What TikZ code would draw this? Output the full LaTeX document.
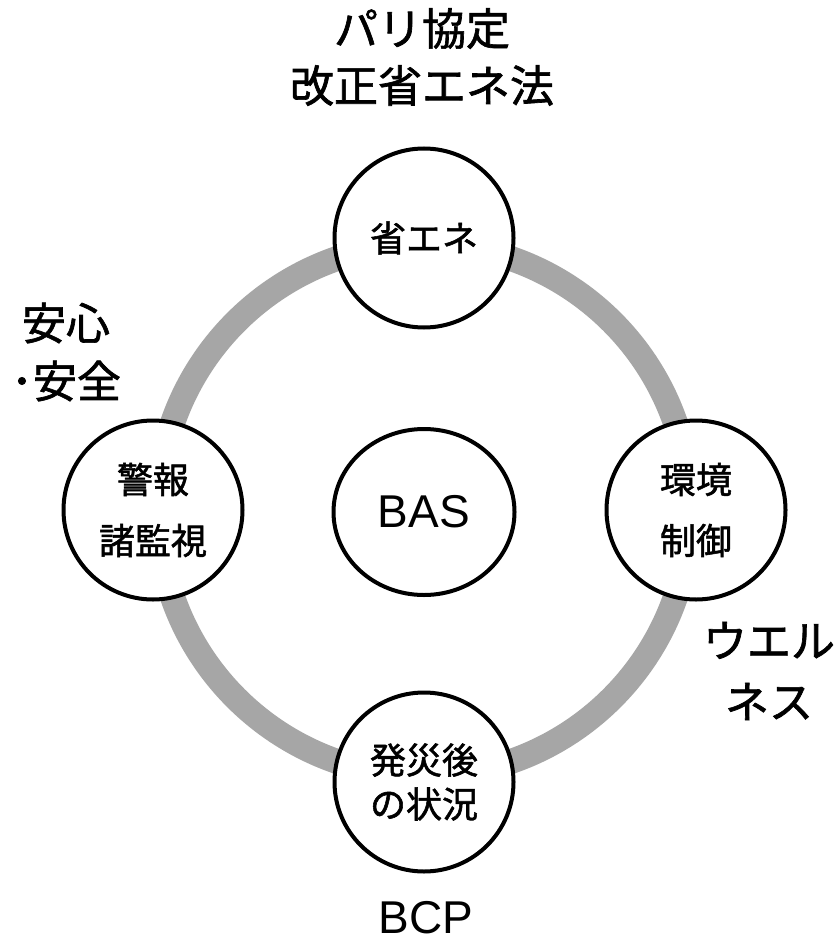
\documentclass[tikz,border=0pt]{standalone}
\usepackage{fontspec}
\usetikzlibrary{shapes.geometric}
\newfontfamily\jp[FakeBold=1.5]{Noto Sans CJK JP}
\newfontfamily\lat{Liberation Sans}
\definecolor{ringgray}{RGB}{166,166,166}
\begin{document}
\begin{tikzpicture}[x=1pt,y=-1pt,
  bub/.style={circle,draw=black,line width=4pt,fill=white,minimum size=179pt,inner sep=0pt,align=center,font=\jp\fontsize{36}{61}\selectfont},
  outerlabel/.style={align=center,inner sep=0pt,font=\jp\fontsize{44}{57}\selectfont},
  latlabel/.style={inner sep=0pt,font=\lat\fontsize{46}{50}\selectfont}]
\fill[white] (0,0) rectangle (839,944);
\useasboundingbox (0,0) rectangle (839,944);
\draw[ringgray,line width=25pt] (424,510) circle[radius=266pt];
\node[bub] (top) at (424,238) {省エネ};
\node[bub] (left) at (153,510) {警報\\諸監視};
\node[bub] (right) at (696,510) {環境\\制御};
\node[bub,font=\jp\fontsize{36}{44}\selectfont] (bot) at (424,782) {発災後\\の状況};
\node[ellipse,draw=black,line width=4pt,fill=white,minimum width=181pt,minimum height=166pt,inner sep=0pt,latlabel] (bas) at (424,512) {BAS};
\node[outerlabel] (title) at (422,57) {パリ協定\\改正省エネ法};
\node[outerlabel,font=\jp\fontsize{44}{58}\selectfont] (safe) at (66,352) {安心\\･安全};
\node[outerlabel,font=\jp\fontsize{44}{61}\selectfont] (well) at (769,671) {ウエル\\ネス};
\node[latlabel] (bcp) at (426,918) {BCP};
\end{tikzpicture}
\end{document}
